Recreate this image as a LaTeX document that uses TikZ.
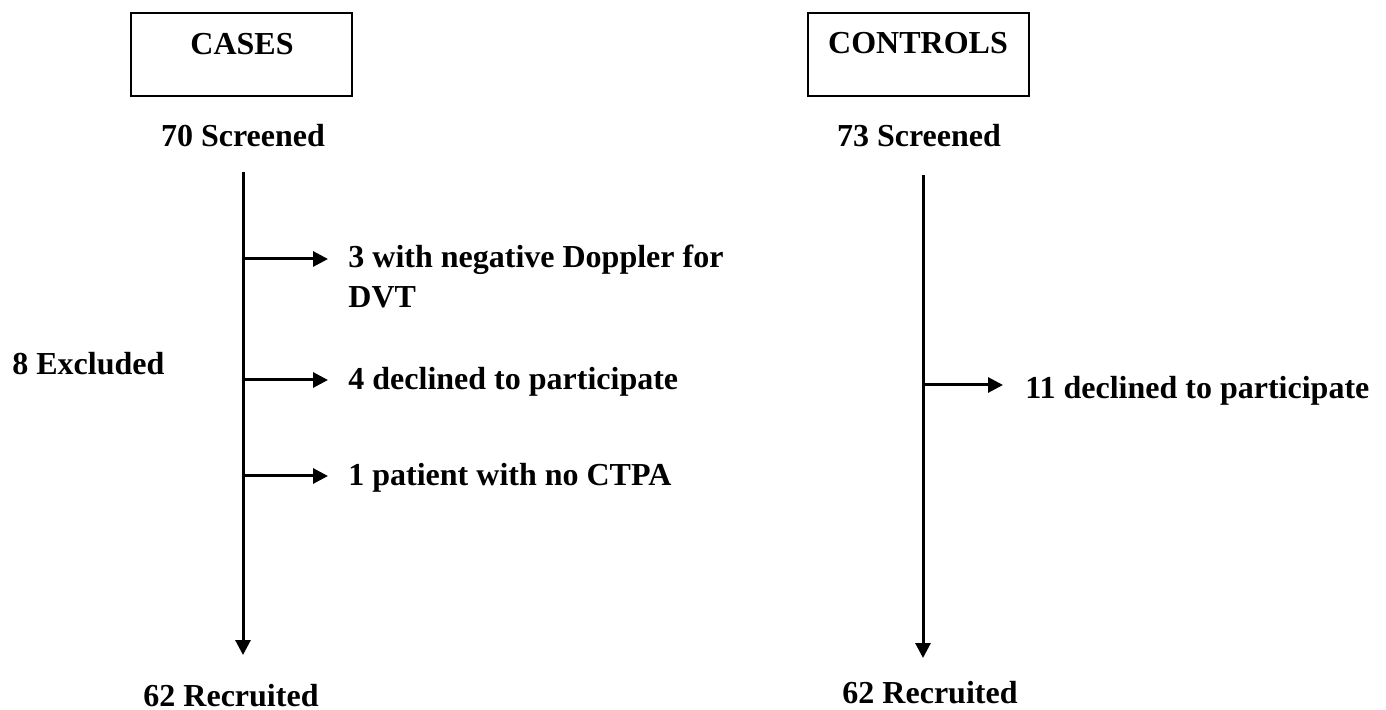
\documentclass[tikz,border=0pt]{standalone}
\usepackage{fontspec}
\setmainfont{Liberation Serif}
\usetikzlibrary{arrows.meta}
\begin{document}
\begin{tikzpicture}[x=0.5pt,y=-0.5pt,
  lbl/.style={font=\bfseries\fontsize{16}{19}\selectfont, inner sep=0pt},
  hbox/.style={draw, line width=0.7pt, minimum width=110.5pt, minimum height=41.5pt, inner sep=0pt},
  trunk/.style={line width=1.5pt, -{Triangle[length=7.5pt,width=7.5pt]}},
  branch/.style={line width=1.5pt, -{Triangle[length=7.5pt,width=7.5pt]}}]
\useasboundingbox (0,0) rectangle (1386,710);
% boxes
\node[hbox] (casesbox) at (241.5,54.5) {};
\node[lbl, anchor=base] (cases) at (242,55) {CASES};
\node[hbox] (ctrlbox) at (918.5,54.5) {};
\node[lbl, anchor=base] (ctrl) at (918,54) {CONTROLS};
% screened
\node[lbl, anchor=base] (scr1) at (243,147) {70 Screened};
\node[lbl, anchor=base] (scr2) at (919,147) {73 Screened};
% trunks
\coordinate (l0) at (243,172);
\coordinate (l1) at (243,655);
\draw[trunk] (l0) -- (l1);
\coordinate (r0) at (923,175);
\coordinate (r1) at (923,658);
\draw[trunk] (r0) -- (r1);
% left branches
\coordinate (b1) at (243,259);
\coordinate (e1) at (328,259);
\draw[branch] (b1) -- (e1);
\node[lbl, anchor=base west] (t1) at (348,268) {3 with negative Doppler for};
\node[lbl, anchor=base west] (t1b) at (348,308) {DVT};
\coordinate (b2) at (243,380);
\coordinate (e2) at (328,380);
\draw[branch] (b2) -- (e2);
\node[lbl, anchor=base west] (t2) at (348,390) {4 declined to participate};
\coordinate (b3) at (243,476);
\coordinate (e3) at (328,476);
\draw[branch] (b3) -- (e3);
\node[lbl, anchor=base west] (t3) at (348,486) {1 patient with no CTPA};
\node[lbl, anchor=base west] (excl) at (12,375) {8 Excluded};
% right branch
\coordinate (rb) at (923,385);
\coordinate (re) at (1003,385);
\draw[branch] (rb) -- (re);
\node[lbl, anchor=base west] (rt) at (1025,399) {11 declined to participate};
% recruited
\node[lbl, anchor=base] (rec1) at (231,706) {62 Recruited};
\node[lbl, anchor=base] (rec2) at (930,703) {62 Recruited};
\end{tikzpicture}
\end{document}
